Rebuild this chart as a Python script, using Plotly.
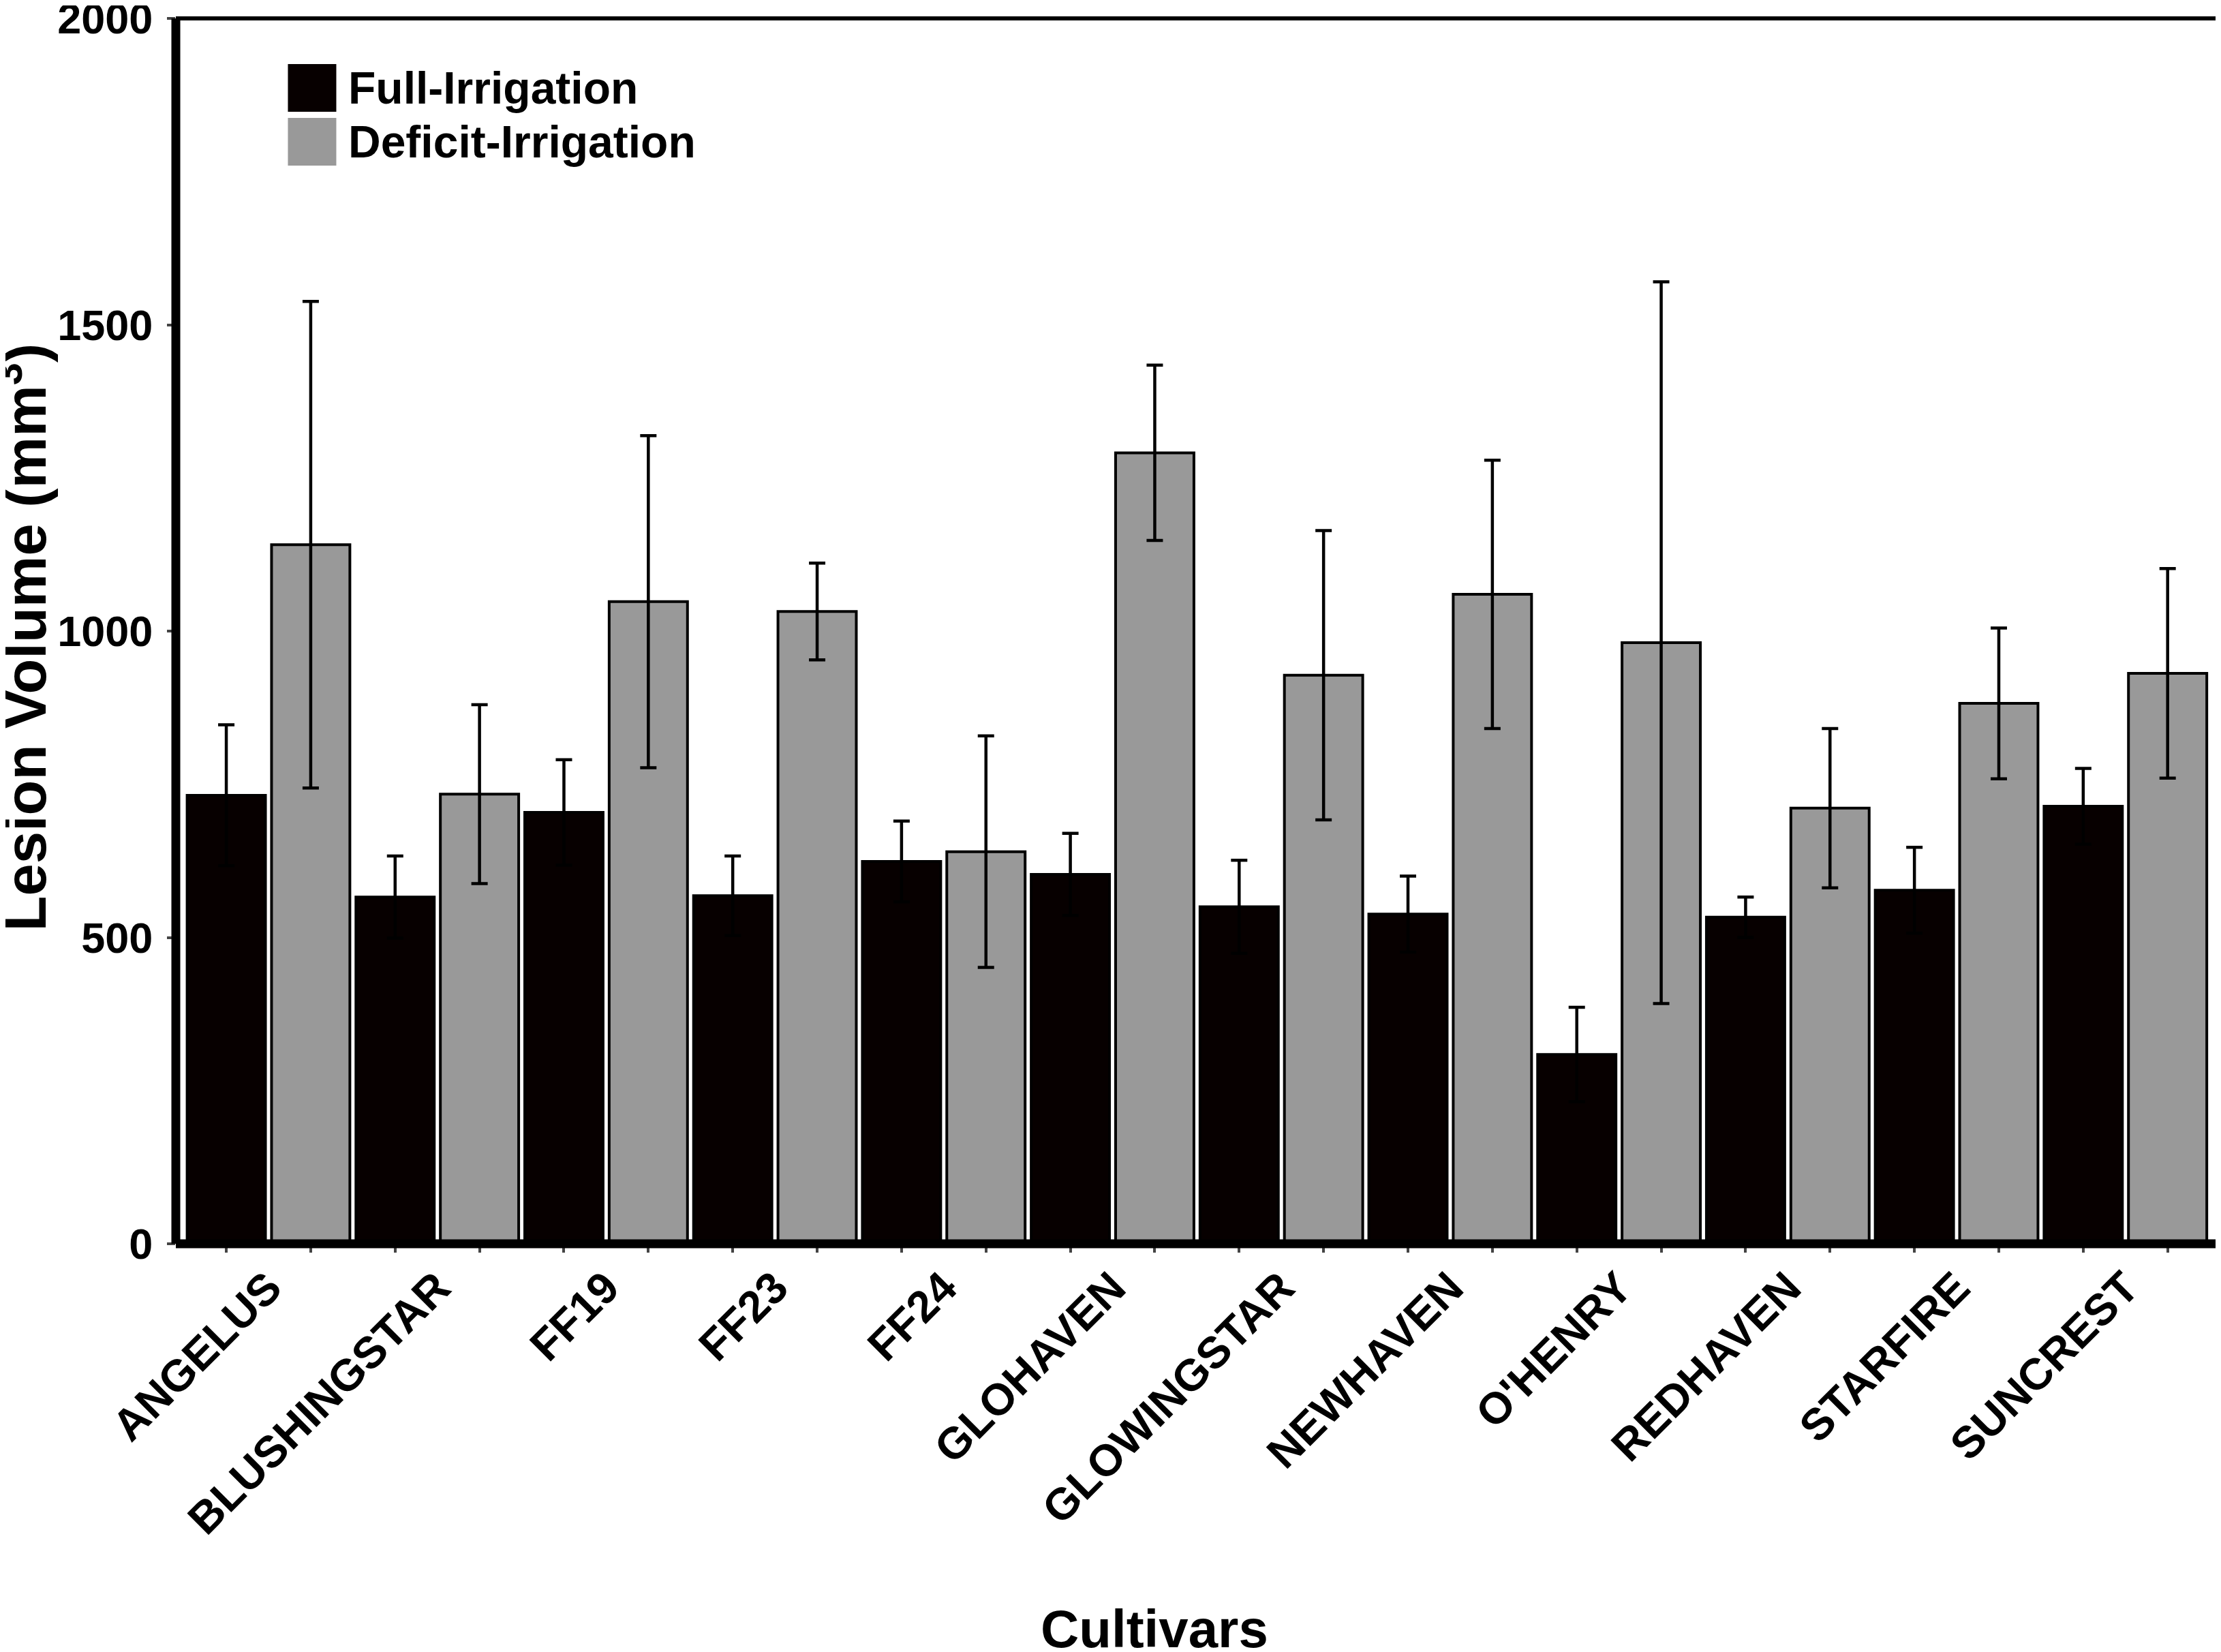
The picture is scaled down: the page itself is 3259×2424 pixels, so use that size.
import plotly.graph_objects as go

cultivars = ["ANGELUS", "BLUSHINGSTAR", "FF19", "FF23", "FF24", "GLOHAVEN",
             "GLOWINGSTAR", "NEWHAVEN", "O'HENRY", "REDHAVEN", "STARFIRE", "SUNCREST"]
full_irrigation = [732, 566, 704, 568, 624, 603, 550, 538, 309, 533, 577, 714]
full_err = [115, 67, 86, 65, 66, 67, 76, 62, 77, 33, 70, 62]
deficit_irrigation = [1141, 734, 1048, 1032, 640, 1291, 928, 1060, 981, 711, 882, 931]
deficit_err = [397, 146, 271, 79, 189, 143, 236, 219, 589, 130, 123, 171]
y_ticks = [0, 500, 1000, 1500, 2000]

# the page body has an 8px margin, so the figure is shifted by that much
PAGE_W, PAGE_H, OFF = 3259, 2424, 8
W, H = PAGE_W - OFF, PAGE_H - OFF
# plot area in page pixels
left, right, top, bottom = 257.5, 3255, 27, 1825
FONT = "Liberation Sans, Arial, sans-serif"
BLACK = "#070000"
GREY = "#999999"

L, T = left - OFF, top - OFF
R, B = W - (right - OFF), H - (bottom - OFF)
pw, ph = right - left, bottom - top


def px_x(x):
    return (x - left) / pw


def px_y(y):
    return (bottom - y) / ph


pos = list(range(len(cultivars)))

fig = go.Figure()
fig.add_trace(go.Bar(
    x=pos, y=full_irrigation, name="Full-Irrigation",
    marker=dict(color=BLACK, line=dict(color="black", width=4)),
    error_y=dict(type="data", array=full_err, color="black", thickness=4.5, width=12),
))
fig.add_trace(go.Bar(
    x=pos, y=deficit_irrigation, name="Deficit-Irrigation",
    marker=dict(color=GREY, line=dict(color="black", width=4)),
    error_y=dict(type="data", array=deficit_err, color="black", thickness=4.5, width=12),
))

# frame: thick left/bottom, thin top/right
frame = [
    dict(x0=0, x1=0, y0=0, y1=1, w=13),
    dict(x0=0, x1=1, y0=0, y1=0, w=13),
    dict(x0=0, x1=1, y0=1, y1=1, w=6),
    dict(x0=1, x1=1, y0=0, y1=1, w=6),
]
for f in frame:
    fig.add_shape(type="line", xref="paper", yref="paper",
                  x0=f["x0"], x1=f["x1"], y0=f["y0"], y1=f["y1"],
                  line=dict(color="black", width=f["w"]), layer="above")

# hand-made legend with large swatches
for label, color, sq_top in [("Full-Irrigation", BLACK, 94), ("Deficit-Irrigation", GREY, 173)]:
    fig.add_shape(type="rect", xref="paper", yref="paper",
                  x0=px_x(422), x1=px_x(493), y0=px_y(sq_top + 70), y1=px_y(sq_top),
                  fillcolor=color, line=dict(width=0))
    fig.add_annotation(text=label, xref="paper", yref="paper",
                       x=px_x(509), y=px_y(sq_top + 35), xanchor="left", yanchor="middle",
                       showarrow=False, font=dict(family=FONT, size=66, color="black", weight="bold"))

fig.add_annotation(text="Lesion Volume (mm<sup>3</sup>)", xref="paper", yref="paper",
                   x=px_x(31), y=px_y(935), textangle=-90, showarrow=False,
                   xanchor="center", yanchor="middle",
                   font=dict(family=FONT, size=85, color="black", weight="bold"))
fig.add_annotation(text="Cultivars", xref="paper", yref="paper",
                   x=px_x(1694), y=px_y(2390), showarrow=False,
                   xanchor="center", yanchor="middle",
                   font=dict(family=FONT, size=78, color="black", weight="bold"))

fig.update_layout(
    width=W, height=H,
    margin=dict(l=L, r=R, t=T, b=B, autoexpand=False),
    paper_bgcolor="white", plot_bgcolor="white",
    barmode="group", bargap=0, bargroupgap=0.072,
    showlegend=False,
    font=dict(family=FONT, color="black"),
)
fig.update_xaxes(
    range=[-0.549, 11.55], tickmode="array", tickvals=pos, ticktext=cultivars,
    ticks="", tickangle=-45, ticklabelstandoff=12, automargin=False,
    tickfont=dict(family=FONT, size=65, color="black", weight="bold"),
    minor=dict(tickmode="array", tickvals=[p + d for p in pos for d in (-0.25, 0.25)],
               ticks="outside", ticklen=12, tickwidth=4, tickcolor="#444", showgrid=False),
    showgrid=False, zeroline=False, showline=False,
)
fig.update_yaxes(
    range=[0, 2000], tickmode="array", tickvals=y_ticks, automargin=False,
    ticks="outside", ticklen=12, tickwidth=4, tickcolor="#444", ticklabelstandoff=8,
    ticklabeloverflow="allow",
    tickfont=dict(family=FONT, size=63, color="black", weight="bold"),
    showgrid=False, zeroline=False, showline=False,
)

fig.write_html("out.html")
